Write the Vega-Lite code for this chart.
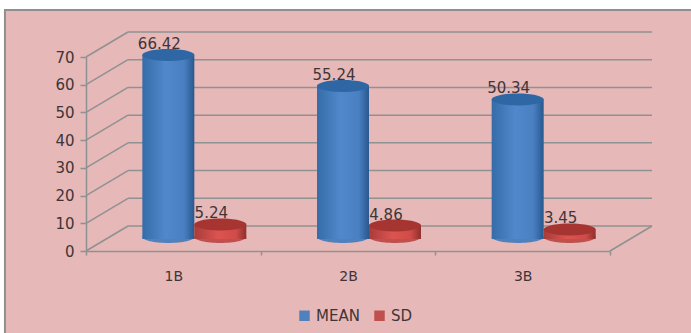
{
  "$schema": "https://vega.github.io/schema/vega-lite/v6.json",
  "width": 524,
  "height": 194,
  "autosize": {"type": "none"},
  "padding": {"left": 86, "top": 57, "right": 81, "bottom": 82},
  "background": "#ffffff",
  "config": {
    "view": {"stroke": null},
    "font": "DejaVu Sans",
    "axisY": {
      "tickCount": 7,
      "grid": false,
      "labelOverlap": false,
      "domainColor": "#8f9292",
      "domainWidth": 1.5,
      "tickColor": "#8f9292",
      "tickWidth": 1.5,
      "tickSize": 6,
      "labelColor": "#3f3537",
      "labelFontSize": 15,
      "labelPadding": 6
    }
  },
  "datasets": {
    "scores": [
      {"category": "1B", "series": "MEAN", "value": 66.42},
      {"category": "1B", "series": "SD", "value": 5.24},
      {"category": "2B", "series": "MEAN", "value": 55.24},
      {"category": "2B", "series": "SD", "value": 4.86},
      {"category": "3B", "series": "MEAN", "value": 50.34},
      {"category": "3B", "series": "SD", "value": 3.45}
    ],
    "levels": [
      {"level": 0}, {"level": 10}, {"level": 20}, {"level": 30},
      {"level": 40}, {"level": 50}, {"level": 60}, {"level": 70}
    ]
  },
  "resolve": {"scale": {"x": "independent"}},
  "layer": [
    {
      "description": "Panel, back wall gridlines and wall/floor diagonals on a continuous x scale",
      "layer": [
        {
          "data": {"values": [{"panel": "frame"}]},
          "mark": {"type": "rect", "fill": "#E6B8B7", "stroke": "#8f8f8f", "strokeWidth": 2, "clip": false},
          "encoding": {
            "x": {"datum": -0.464, "type": "quantitative", "scale": {"domain": [0, 3]}, "axis": null},
            "x2": {"datum": 3.6},
            "y": {
              "datum": 87,
              "type": "quantitative",
              "title": null,
              "axis": {"zindex": 1},
              "scale": {"domain": [0, 70], "nice": false}
            },
            "y2": {"datum": -40}
          }
        },
        {
          "data": {"name": "levels"},
          "mark": {"type": "rule", "stroke": "#8f9292", "strokeWidth": 1.5, "xOffset": 42, "x2Offset": 42, "yOffset": -25, "y2Offset": -25},
          "encoding": {
            "x": {"datum": 0, "type": "quantitative", "scale": {"domain": [0, 3]}, "axis": null},
            "x2": {"datum": 3},
            "y": {"field": "level", "type": "quantitative", "title": null}
          }
        },
        {
          "data": {"name": "levels"},
          "mark": {"type": "rule", "stroke": "#8f9292", "strokeWidth": 1.5, "x2Offset": 42, "y2Offset": -25},
          "encoding": {
            "x": {"datum": 0, "type": "quantitative", "scale": {"domain": [0, 3]}, "axis": null},
            "x2": {"datum": 0},
            "y": {"field": "level", "type": "quantitative", "title": null},
            "y2": {"field": "level"}
          }
        },
        {
          "data": {"values": [{"level": 0}]},
          "mark": {"type": "rule", "stroke": "#8f9292", "strokeWidth": 1.5, "x2Offset": 42, "y2Offset": -25},
          "encoding": {
            "x": {"datum": 3, "type": "quantitative", "scale": {"domain": [0, 3]}, "axis": null},
            "x2": {"datum": 3},
            "y": {"field": "level", "type": "quantitative", "title": null},
            "y2": {"field": "level"}
          }
        }
      ]
    },
    {
      "description": "Cylinders built from a shaded body with elliptical base and cap",
      "data": {"name": "scores"},
      "encoding": {
        "x": {
          "field": "category",
          "type": "nominal",
          "scale": {"paddingInner": 0, "paddingOuter": 0},
          "axis": {
            "title": null,
            "labelAngle": 0,
            "tickBand": "extent",
            "zindex": 1,
            "domainColor": "#8f9292",
            "domainWidth": 1.5,
            "tickColor": "#8f9292",
            "tickWidth": 1.5,
            "tickSize": 4,
            "labelColor": "#3f3537",
            "labelFontSize": 14,
            "labelPadding": 14
          }
        },
        "xOffset": {
          "field": "series",
          "type": "nominal",
          "scale": {"paddingInner": 0, "paddingOuter": 0.68, "align": 0.797}
        }
      },
      "layer": [
        {
          "mark": {
            "type": "point",
            "filled": true,
            "opacity": 1,
            "yOffset": -14,
            "size": 2704,
            "shape": "M-1,0A1,0.23,0,1,1,1,0A1,0.23,0,1,1,-1,0Z"
          },
          "encoding": {
            "y": {"datum": 0, "type": "quantitative", "title": null},
            "fill": {
              "field": "series",
              "type": "nominal",
              "scale": {"domain": ["MEAN", "SD"], "range": ["#4F81BD", "#C0504D"]},
              "legend": {
                "orient": "none",
                "legendX": 211,
                "legendY": 251,
                "direction": "horizontal",
                "title": null,
                "symbolType": "square",
                "symbolSize": 110,
                "symbolOpacity": 1,
                "labelFontSize": 15,
                "labelColor": "#3f3537",
                "columnPadding": 12,
                "labelOffset": 4
              }
            }
          }
        },
        {
          "transform": [{"filter": "datum.series === 'MEAN'"}],
          "mark": {
            "type": "bar",
            "yOffset": -12,
            "y2Offset": -14,
            "fill": {
              "gradient": "linear", "x1": 0, "x2": 1, "y1": 0, "y2": 0,
              "stops": [
                {"offset": 0, "color": "#356CA8"},
                {"offset": 0.45, "color": "#5088CC"},
                {"offset": 0.8, "color": "#4A80C2"},
                {"offset": 1, "color": "#28588E"}
              ]
            }
          },
          "encoding": {"y": {"field": "value", "type": "quantitative", "title": null}}
        },
        {
          "transform": [{"filter": "datum.series === 'SD'"}],
          "mark": {
            "type": "bar",
            "yOffset": -12,
            "y2Offset": -14,
            "fill": {
              "gradient": "linear", "x1": 0, "x2": 1, "y1": 0, "y2": 0,
              "stops": [
                {"offset": 0, "color": "#A83C3A"},
                {"offset": 0.45, "color": "#DB5450"},
                {"offset": 0.8, "color": "#D04C49"},
                {"offset": 1, "color": "#8E2F2D"}
              ]
            }
          },
          "encoding": {"y": {"field": "value", "type": "quantitative", "title": null}}
        },
        {
          "transform": [{"filter": "datum.series === 'MEAN'"}],
          "mark": {
            "type": "point",
            "filled": true,
            "opacity": 1,
            "yOffset": -12,
            "size": 2704,
            "fill": "#2E67A3",
            "shape": "M-1,0A1,0.23,0,1,1,1,0A1,0.23,0,1,1,-1,0Z"
          },
          "encoding": {"y": {"field": "value", "type": "quantitative", "title": null}}
        },
        {
          "transform": [{"filter": "datum.series === 'SD'"}],
          "mark": {
            "type": "point",
            "filled": true,
            "opacity": 1,
            "yOffset": -12,
            "size": 2704,
            "fill": "#A63532",
            "shape": "M-1,0A1,0.23,0,1,1,1,0A1,0.23,0,1,1,-1,0Z"
          },
          "encoding": {"y": {"field": "value", "type": "quantitative", "title": null}}
        },
        {
          "mark": {
            "type": "text",
            "fontSize": 15,
            "color": "#3f3537",
            "baseline": "alphabetic",
            "dx": -9,
            "yOffset": -18
          },
          "encoding": {
            "y": {"field": "value", "type": "quantitative", "title": null},
            "text": {"field": "value", "type": "quantitative", "format": ".2f"}
          }
        }
      ]
    }
  ]
}
